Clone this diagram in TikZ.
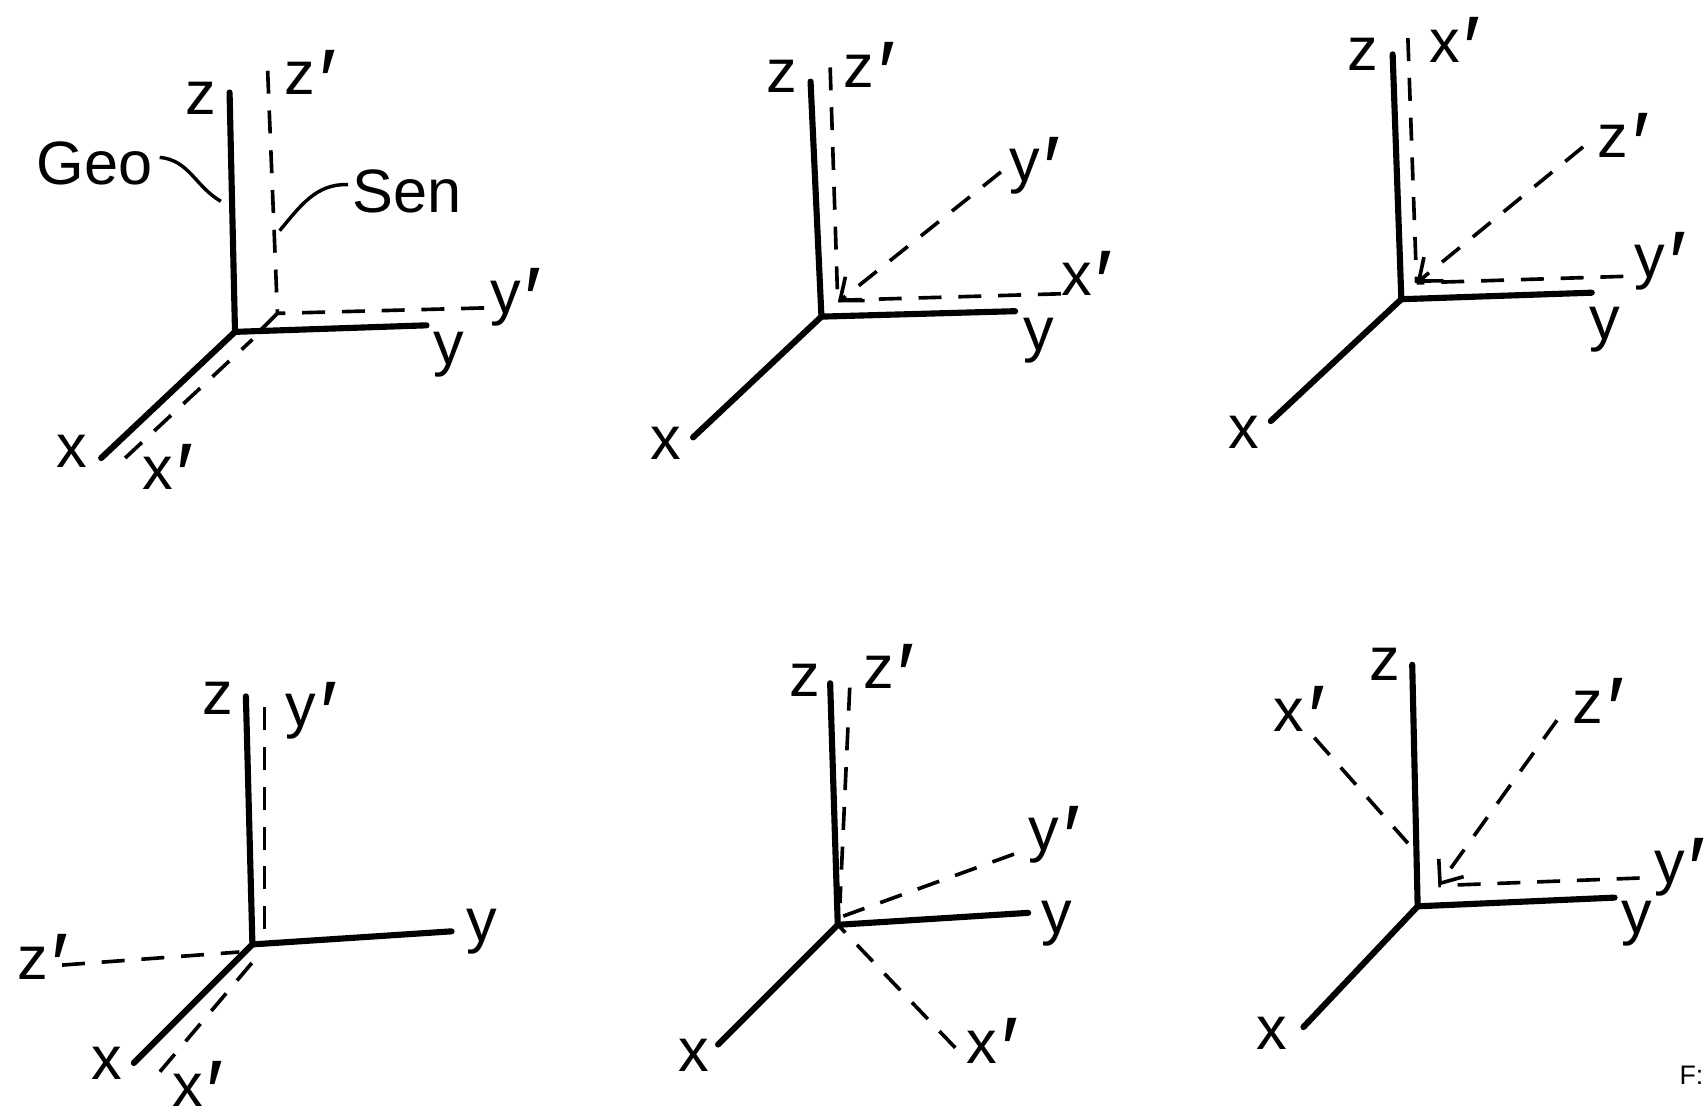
\documentclass[tikz,border=0pt]{standalone}
\usepackage{fontspec}
\setmainfont{Liberation Sans}
\usepackage{tikz}
\usetikzlibrary {arrows.meta}
\newcommand\lblSize{16}
\newcommand{\pr}{\kern0.06em\raisebox{-0.3em}[0pt][0pt]{\scalebox{1.5}{\char"2032}}\kern0.02em}
\newcommand{\geoFrame}[5]{
    \coordinate (#1o) at (#2);
    \coordinate (#1x) at (#3);
    \coordinate (#1y) at (#4);
    \coordinate (#1z) at (#5);
    \draw[geo] (#1z) -- (#1o) -- (#1y);
    \draw[geo] (#1o) -- (#1x);
}
\newcommand{\senAxis}[4]{
    \coordinate (#1s) at (#2);
    \coordinate (#1e) at (#3);
    \draw[sen, #4] (#1e) -- (#1s);
}
\tikzset{
    geo/.style={line width=1.6pt, line cap=round, line join=round},
    sen/.style={line width=0.95pt, dash pattern=on 6pt off 4.4pt},
    lbl/.style={anchor=base west, inner sep=0pt, font=\fontsize{\lblSize}{18}\selectfont},
    tipped/.style={-{Straight Barb[length=5pt, width=8pt]}},
}

\begin{document}
\begin{tikzpicture}[x=0.01cm, y=-0.01cm]
    \useasboundingbox (0,0) rectangle (1568,1023);

    % top left
    \geoFrame{a}{216,305}{93,421}{392,299}{211,85}
    \senAxis{az}{255,288}{246,65}{}
    \senAxis{ay}{255,288}{445,283}{}
    \senAxis{ax}{232,312}{115,421}{}
    \coordinate (aj) at (240,303);
    \draw[line width=0.95pt] (azs) -- (aj);
    \node[lbl] (alz) at (170,105) {z};
    \node[lbl] (alzp) at (261,87) {z\pr};
    \node[lbl] (algeo) at (33,170) {Geo};
    \node[lbl] (alsen) at (323,195) {Sen};
    \node[lbl] (alyp) at (450,288) {y\pr};
    \node[lbl] (aly) at (398,335) {y};
    \node[lbl] (alx) at (51,430) {x};
    \node[lbl] (alxp) at (130,450) {x\pr};
    \coordinate (ageo) at (203,185);
    \coordinate (asen) at (257,212);
    \draw[line width=0.9pt] (algeo.east) ++(6,-6) to[out=-5, in=150] (ageo);
    \draw[line width=0.9pt] (alsen.west) ++(-3,-6) to[out=178, in=50] (asen);

    % top middle
    \geoFrame{b}{755,291}{637,402}{933,286}{745,75}
    \senAxis{bz}{770,278}{763,62}{}
    \senAxis{by}{770,278}{920,158}{tipped}
    \senAxis{bx}{770,276}{975,270}{}
    \node[lbl] (blz) at (704,85) {z};
    \node[lbl] (blzp) at (775,80) {z\pr};
    \node[lbl] (blyp) at (927,167) {y\pr};
    \node[lbl] (blxp) at (975,272) {x\pr};
    \node[lbl] (bly) at (940,322) {y};
    \node[lbl] (blx) at (597,422) {x};

    % top right
    \geoFrame{c}{1288,275}{1168,387}{1463,269}{1280,50}
    \senAxis{cx}{1302,260}{1294,35}{}
    \senAxis{cz}{1302,260}{1455,135}{tipped}
    \senAxis{cy}{1302,260}{1492,254}{}
    \node[lbl] (clz) at (1238,65) {z};
    \node[lbl] (clxp) at (1313,57) {x\pr};
    \node[lbl] (clzp) at (1468,145) {z\pr};
    \node[lbl] (clyp) at (1502,255) {y\pr};
    \node[lbl] (cly) at (1460,312) {y};
    \node[lbl] (clx) at (1128,412) {x};

    % bottom left
    \geoFrame{d}{232,868}{123,977}{415,856}{226,640}
    \senAxis{dy}{243,865}{243,650}{}
    \senAxis{dz}{220,875}{57,887}{}
    \senAxis{dx}{240,875}{147,985}{}
    \node[lbl] (dlz) at (185,657) {z};
    \node[lbl] (dlyp) at (262,668) {y\pr};
    \node[lbl] (dlzp) at (15,900) {z\pr};
    \node[lbl] (dlx) at (83,992) {x};
    \node[lbl] (dlxp) at (158,1017) {x\pr};
    \node[lbl] (dly) at (428,865) {y};

    % bottom middle
    \geoFrame{e}{770,850}{660,960}{945,839}{763,628}
    \senAxis{ez}{772,830}{781,632}{}
    \senAxis{ey}{775,842}{932,785}{}
    \senAxis{ex}{772,852}{878,963}{}
    \node[lbl] (elz) at (725,640) {z};
    \node[lbl] (elzp) at (793,633) {z\pr};
    \node[lbl] (elyp) at (945,782) {y\pr};
    \node[lbl] (ely) at (957,858) {y};
    \node[lbl] (elx) at (623,985) {x};
    \node[lbl] (elxp) at (888,977) {x\pr};

    % bottom right
    \geoFrame{f}{1303,833}{1198,944}{1484,825}{1298,611}
    \senAxis{fx}{1294,775}{1208,678}{}
    \senAxis{fz}{1322,814}{1431,662}{tipped}
    \senAxis{fy}{1322,814}{1507,807}{}
    \node[lbl] (flz) at (1258,625) {z};
    \node[lbl] (flxp) at (1170,672) {x\pr};
    \node[lbl] (flzp) at (1445,665) {z\pr};
    \node[lbl] (flyp) at (1520,812) {y\pr};
    \node[lbl] (fly) at (1490,858) {y};
    \node[lbl] (flx) at (1154,965) {x};
    \node[lbl, font=\fontsize{7}{8}\selectfont] (flf) at (1543,997) {F:};
\end{tikzpicture}
\end{document}
